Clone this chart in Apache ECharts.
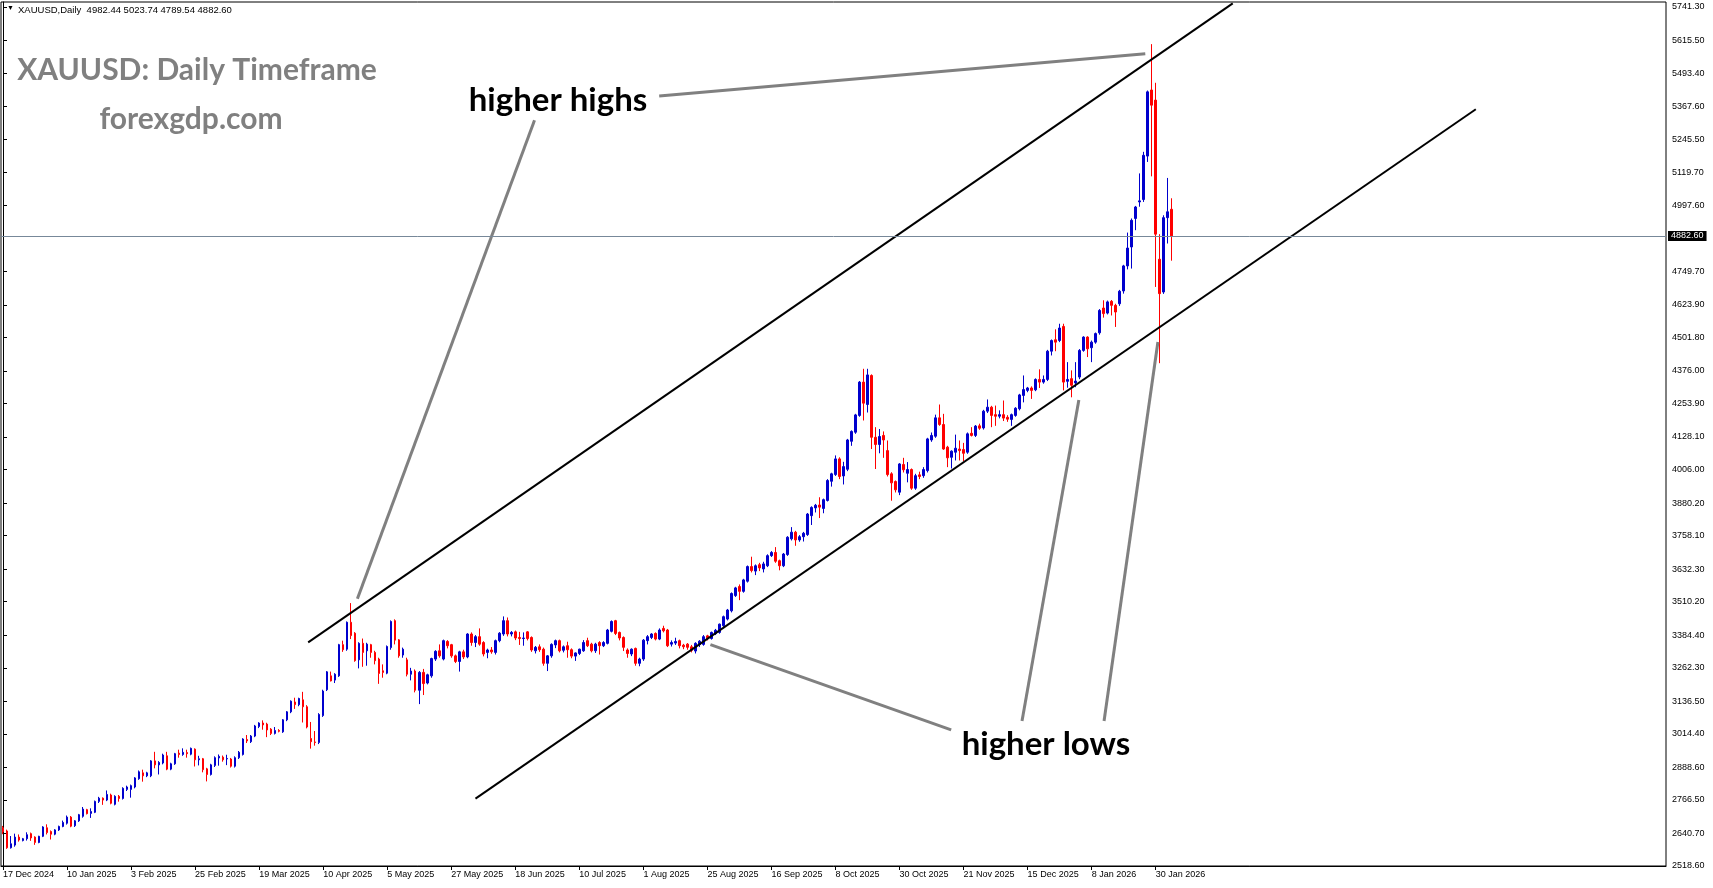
<!DOCTYPE html>
<html><head><meta charset="utf-8">
<script src="https://cdn.jsdelivr.net/npm/echarts@6/dist/echarts.min.js"></script>
<style>html,body{margin:0;padding:0;background:#fff;}#c{width:1713px;height:888px;}</style>
</head><body><div id="c"></div>
<script>
const symbolName = 'XAUUSD';
const timeframe = 'Daily';
const firstDay = [2024, 11, 17];
const holidays = ['2024-12-25','2025-01-01','2025-04-18','2025-12-25','2026-01-01'];
const totalSlots = 416;
const labelEvery = 16;

const opens = [
2662,2650,2587,2597,2627,2614,2621,2640,2627,2607,
2630,2662,2648,2638,2654,2667,2679,2702,2670,2688,
2705,2730,2716,2720,2761,2773,2766,2785,2750,2780,
2772,2806,2806,2815,2846,2868,2857,2857,2913,2898,
2905,2932,2882,2902,2942,2937,2944,2938,2957,2917,
2921,2883,2862,2896,2924,2927,2920,2920,2893,2925,
2937,2993,2985,3006,3042,3055,3051,3032,3016,3027,
3022,3067,3097,3134,3124,3142,3116,2997,2984,2982,
3083,3180,3232,3216,3232,3349,3332,3433,3392,3292,
3354,3326,3349,3320,3295,3251,3242,3338,3439,3367,
3310,3292,3238,3250,3178,3245,3205,3232,3295,3326,
3295,3361,3349,3307,3286,3322,3303,3389,3357,3379,
3357,3320,3329,3320,3364,3389,3439,3389,3397,3376,
3372,3397,3376,3326,3341,3332,3279,3307,3348,3364,
3328,3345,3330,3306,3316,3326,3364,3351,3326,3357,
3345,3354,3399,3439,3395,3376,3329,3314,3335,3279,
3295,3364,3376,3391,3370,3410,3404,3351,3355,3364,
3347,3351,3341,3325,3349,3350,3382,3372,3390,3395,
3420,3445,3476,3533,3567,3549,3587,3642,3625,3649,
3633,3645,3683,3695,3664,3645,3687,3746,3771,3742,
3754,3762,3833,3862,3873,3860,3890,3962,3987,4046,
3982,4007,4112,4146,4209,4334,4250,4359,4127,4100,
4134,4077,3990,3961,3921,4025,3992,4006,3936,3986,
3983,4002,4117,4131,4200,4175,4090,4052,4071,4083,
4081,4071,4142,4134,4170,4162,4225,4240,4212,4206,
4212,4202,4194,4209,4234,4284,4303,4312,4305,4344,
4334,4344,4450,4493,4490,4543,4337,4347,4331,4353,
4453,4503,4463,4484,4519,4612,4593,4637,4622,4628,
4676,4770,4841,4948,5010,5019,5182,5430,5392,4795,
4672,4951,4982.44];

const highs = [
2669,2655,2631,2640,2637,2624,2645,2644,2630,2632,
2668,2675,2652,2657,2670,2689,2708,2706,2691,2714,
2740,2733,2735,2764,2778,2776,2802,2790,2784,2785,
2814,2820,2824,2852,2877,2880,2872,2916,2947,2912,
2940,2947,2906,2943,2955,2960,2955,2963,2960,2932,
2924,2887,2902,2930,2937,2933,2936,2924,2930,2950,
2998,3010,3010,3048,3058,3065,3056,3036,3040,3032,
3070,3100,3140,3150,3150,3172,3122,3059,3025,3092,
3180,3250,3248,3242,3352,3364,3436,3505,3396,3358,
3372,3356,3352,3326,3300,3275,3346,3440,3444,3370,
3338,3300,3262,3256,3250,3258,3240,3300,3328,3350,
3368,3366,3352,3312,3326,3330,3392,3395,3385,3410,
3362,3334,3340,3368,3396,3455,3451,3400,3402,3397,
3395,3400,3380,3344,3350,3338,3310,3354,3368,3368,
3346,3360,3335,3320,3334,3366,3375,3356,3356,3362,
3362,3408,3440,3442,3398,3380,3335,3335,3338,3300,
3370,3385,3392,3395,3410,3420,3408,3365,3375,3368,
3352,3355,3348,3358,3366,3385,3386,3398,3408,3428,
3458,3483,3545,3566,3575,3596,3646,3679,3650,3656,
3660,3688,3700,3715,3668,3693,3756,3790,3776,3760,
3772,3843,3868,3877,3902,3897,3970,3994,4059,4052,
4035,4121,4153,4215,4338,4384,4384,4363,4165,4158,
4149,4115,3996,3965,4030,4050,4034,4010,3990,3998,
4015,4125,4145,4212,4250,4215,4095,4078,4137,4115,
4106,4145,4165,4173,4178,4230,4269,4245,4246,4228,
4265,4210,4216,4240,4290,4359,4316,4318,4348,4382,
4359,4455,4494,4532,4553,4553,4409,4378,4409,4458,
4506,4506,4490,4520,4608,4641,4640,4642,4628,4680,
4774,4895,4948,4995,5117,5198,5428,5602,5457,4889,
4960,5100,5023.74];

const lows = [
2638,2583,2584,2591,2610,2611,2614,2613,2598,2604,
2627,2637,2618,2634,2650,2664,2674,2664,2665,2684,
2700,2712,2699,2717,2755,2748,2762,2750,2746,2760,
2768,2800,2775,2810,2842,2835,2852,2852,2885,2862,
2900,2878,2878,2898,2925,2932,2925,2934,2892,2896,
2870,2836,2858,2890,2895,2910,2897,2888,2888,2920,
2933,2980,2980,3002,3036,3030,3002,3010,3012,3020,
3018,3062,3092,3108,3118,3057,3035,2959,2970,2976,
3078,3175,3211,3205,3228,3322,3326,3370,3285,3260,
3266,3270,3300,3275,3202,3225,3238,3330,3350,3300,
3300,3230,3215,3170,3126,3160,3200,3225,3288,3300,
3290,3335,3300,3280,3248,3295,3298,3345,3340,3345,
3305,3298,3315,3312,3358,3382,3380,3380,3366,3348,
3345,3365,3322,3316,3322,3270,3250,3300,3336,3320,
3320,3300,3298,3288,3310,3322,3340,3320,3318,3312,
3340,3350,3395,3385,3365,3325,3300,3306,3270,3268,
3288,3350,3370,3365,3366,3395,3340,3342,3348,3335,
3332,3330,3320,3316,3340,3345,3365,3368,3385,3390,
3415,3440,3470,3528,3516,3544,3582,3620,3610,3625,
3620,3640,3678,3656,3628,3640,3682,3740,3720,3735,
3736,3757,3798,3845,3824,3842,3886,3942,3982,3970,
3950,4000,4095,4140,4204,4190,4220,4083,4008,4067,
4050,3980,3889,3920,3910,3995,3958,3930,3930,3970,
3975,3995,4110,4125,4170,4080,4015,4010,4040,4040,
4038,4065,4130,4128,4155,4156,4218,4165,4170,4198,
4188,4185,4170,4204,4228,4258,4296,4271,4300,4312,
4328,4338,4434,4450,4484,4303,4313,4277,4315,4345,
4448,4428,4409,4478,4512,4576,4588,4584,4541,4620,
4666,4757,4760,4904,4992,5010,5160,5106,4691,4405,
4665,4854,4789.54];

const closes = [
2647,2587,2602,2627,2616,2621,2636,2624,2607,2630,
2665,2644,2638,2654,2667,2682,2702,2668,2688,2711,
2732,2715,2723,2761,2773,2766,2787,2754,2780,2772,
2810,2815,2820,2849,2872,2857,2868,2913,2898,2907,
2935,2882,2902,2940,2937,2945,2940,2960,2917,2921,
2880,2862,2898,2925,2930,2917,2922,2893,2925,2945,
2995,2988,3006,3044,3055,3048,3029,3016,3027,3024,
3067,3097,3137,3124,3147,3116,3040,2985,2982,3087,
3175,3247,3213,3238,3349,3330,3433,3383,3289,3354,
3320,3351,3320,3289,3241,3245,3342,3436,3366,3307,
3332,3238,3250,3178,3245,3203,3236,3297,3324,3307,
3364,3345,3307,3286,3322,3303,3389,3357,3379,3351,
3314,3329,3322,3364,3392,3439,3389,3395,3374,3372,
3374,3372,3329,3339,3330,3279,3307,3350,3364,3326,
3341,3330,3306,3318,3332,3357,3345,3326,3351,3345,
3357,3404,3436,3391,3374,3339,3316,3332,3279,3295,
3366,3379,3389,3370,3404,3401,3345,3357,3361,3345,
3341,3339,3328,3354,3362,3379,3372,3395,3403,3426,
3454,3479,3541,3562,3549,3592,3642,3627,3645,3637,
3652,3683,3695,3662,3645,3689,3752,3771,3742,3754,
3767,3839,3864,3872,3865,3893,3965,3990,4046,3980,
4017,4117,4149,4211,4334,4255,4361,4127,4100,4130,
4117,3987,3956,3930,4027,4005,4006,3936,3983,3980,
4006,4121,4134,4200,4175,4083,4050,4075,4086,4077,
4067,4140,4134,4169,4161,4225,4240,4209,4206,4212,
4199,4195,4212,4236,4286,4306,4312,4303,4344,4334,
4344,4450,4490,4484,4537,4334,4344,4322,4338,4453,
4503,4459,4484,4516,4603,4591,4635,4622,4597,4675,
4770,4837,4941,4991,5014,5185,5423,5373,4889,4666,
4951,4973,4882.60];

const priceTicks = [5741.30,5615.50,5493.40,5367.60,5245.50,5119.70,4997.60,4749.70,4623.90,4501.80,4376.00,4253.90,4128.10,4006.00,3880.20,3758.10,3632.30,3510.20,3384.40,3262.30,3136.50,3014.40,2888.60,2766.50,2640.70,2518.60];
const priceMin = 2518.6;
const priceMax = 5760.1;

// channel lines in (bar index, price)
const upperChannel = [[76.25, 3357.5], [307.25, 5755.2]];
const lowerChannel = [[118.05, 2771.5], [367.98, 5357.9]];
// grey pointer lines in (bar index, price)
const pointerHighs1 = [[163.95, 5407.0], [285.4, 5565.7]];
const pointerHighs2 = [[132.8, 5316.6], [88.55, 3521.4]];
const pointerLows1 = [[236.9, 3029.6], [176.75, 3349.2]];
const pointerLows2 = [[254.6, 3062.6], [268.8, 4266.9]];
const pointerLows3 = [[275.1, 3062.6], [288.55, 4484.5]];

const MONTHS = ['Jan','Feb','Mar','Apr','May','Jun','Jul','Aug','Sep','Oct','Nov','Dec'];
const categories = [];
let d = new Date(Date.UTC(firstDay[0], firstDay[1], firstDay[2]));
while (categories.length < opens.length) {
  const dow = d.getUTCDay();
  const iso = d.toISOString().slice(0, 10);
  if (dow !== 0 && dow !== 6 && holidays.indexOf(iso) < 0) {
    categories.push(d.getUTCDate() + ' ' + MONTHS[d.getUTCMonth()] + ' ' + d.getUTCFullYear());
  }
  d = new Date(d.getTime() + 86400000);
}
const nBars = categories.length;
for (let i = nBars; i < totalSlots; i++) categories.push('');

const candles = opens.map((o, i) => [o, closes[i], lows[i], highs[i]]);
const last = nBars - 1;
const lastClose = closes[last];
const fmt = v => v.toFixed(2);
const headerText = symbolName + ',' + timeframe + '  ' + fmt(opens[last]) + ' ' + fmt(highs[last]) + ' ' + fmt(lows[last]) + ' ' + fmt(lastClose);

const AXFONT = 'Liberation Sans';
const showIdx = (i) => i % labelEvery === 0 && i < nBars;

function seg(data, color, width) {
  return { type: 'line', xAxisIndex: 1, yAxisIndex: 0, data: data, symbol: 'none', silent: true,
    lineStyle: { color: color, width: width }, itemStyle: { color: color }, z: 4, animation: false };
}

const chart = echarts.init(document.getElementById('c'), null, { renderer: 'canvas' });
chart.setOption({
  animation: false,
  backgroundColor: '#ffffff',
  grid: { left: 1, right: 47, top: 2, bottom: 22, show: true, borderColor: '#000', borderWidth: 1, backgroundColor: '#fff', containLabel: false },
  xAxis: [{
    type: 'category', data: categories, boundaryGap: true,
    axisLine: { show: true, lineStyle: { color: '#000', width: 1 } },
    axisTick: { show: true, alignWithLabel: true, length: 4, interval: showIdx, lineStyle: { color: '#000' } },
    axisLabel: { interval: showIdx, align: 'left', margin: 4, fontSize: 9, color: '#000', fontFamily: AXFONT },
    splitLine: { show: false }
  }, {
    type: 'value', min: -0.5, max: totalSlots - 0.5, show: false
  }],
  yAxis: {
    type: 'value', position: 'right', min: priceMin, max: priceMax,
    axisLine: { show: true, lineStyle: { color: '#000', width: 1 } },
    axisTick: { show: true, length: 4, customValues: priceTicks, lineStyle: { color: '#000' } },
    axisLabel: { customValues: priceTicks, formatter: v => fmt(v), fontSize: 9, color: '#000', margin: 6, fontFamily: AXFONT },
    splitLine: { show: false }
  },
  series: [{
    type: 'candlestick', xAxisIndex: 0, yAxisIndex: 0, data: candles, barWidth: 2,
    itemStyle: { color: '#0000CD', color0: '#FF0000', borderColor: '#0000CD', borderColor0: '#FF0000', borderWidth: 1 },
    z: 3, silent: true,
    markLine: {
      silent: true, symbol: ['none', 'none'], animation: false,
      lineStyle: { color: '#778899', width: 1, type: 'solid' },
      label: { show: true, position: 'end', formatter: fmt(lastClose), color: '#fff', backgroundColor: '#000',
               padding: [1, 3, 0, 3], fontSize: 9, fontFamily: AXFONT, distance: 2 },
      data: [{ yAxis: lastClose }]
    }
  },
  seg(upperChannel, '#000000', 2),
  seg(lowerChannel, '#000000', 2),
  seg(pointerHighs1, '#808080', 3),
  seg(pointerHighs2, '#808080', 3),
  seg(pointerLows1, '#808080', 3),
  seg(pointerLows2, '#808080', 3),
  seg(pointerLows3, '#808080', 3)
  ],
  graphic: [
    { type: 'text', left: 7, top: 5, z: 10, style: { text: '▼', font: '7px "Liberation Sans"', fill: '#000' } },
    { type: 'text', left: 18, top: 5, z: 10, style: { text: headerText, font: '9.5px "Liberation Sans"', fill: '#000' } },
    { type: 'text', x: 197, y: 70, z: 10, style: { text: 'XAUUSD: Daily Timeframe', font: 'bold 30px Lato', fill: '#808080', align: 'center', verticalAlign: 'middle' } },
    { type: 'text', x: 191, y: 119, z: 10, style: { text: 'forexgdp.com', font: 'bold 30px Lato', fill: '#808080', align: 'center', verticalAlign: 'middle' } },
    { type: 'text', x: 558, y: 100, z: 10, style: { text: 'higher highs', font: 'bold 33px Lato', fill: '#000', align: 'center', verticalAlign: 'middle' } },
    { type: 'text', x: 1046, y: 744, z: 10, style: { text: 'higher lows', font: 'bold 33px Lato', fill: '#000', align: 'center', verticalAlign: 'middle' } }
  ]
});
</script>
</body></html>
